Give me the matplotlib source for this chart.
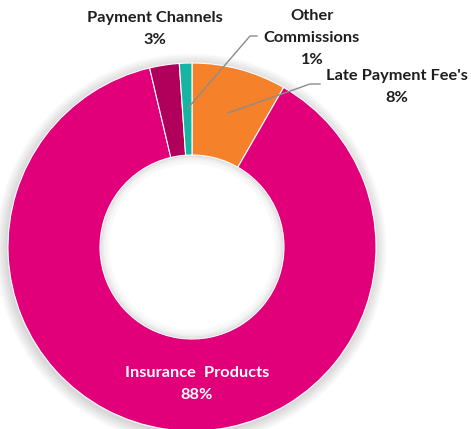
import matplotlib.pyplot as plt
import matplotlib.patches as mpatches

## Data
labels = ["Late Payment Fee's", "Insurance Products", "Payment Channels", "Other Commissions"]
shown = ["8%", "88%", "3%", "1%"]
values = [8.3, 88.0, 2.6, 1.1]
colors = ["#F5822A", "#E2007A", "#B0005C", "#17B3A3"]

W, H = 471, 429
fig = plt.figure(figsize=(W / 100, H / 100), dpi=100)
ax = fig.add_axes([0, 0, 1, 1])

cx, cy = 192, H - 247
R = 184

# soft shadow around the ring
for i in range(8):
    ax.add_patch(mpatches.Circle((cx - 1, cy - 2), R + 1 + i * 1.5,
                                 color="black", alpha=0.02, lw=0, zorder=0))

ax.pie(values, colors=colors, startangle=90, counterclock=False,
       center=(cx, cy), radius=R, frame=True,
       wedgeprops=dict(width=R / 2, edgecolor="white", linewidth=0.8))
ax.set_xlim(0, W)
ax.set_ylim(0, H)
ax.set_aspect("equal")
ax.axis("off")

# faint inner shadow of the hole
for i in range(5):
    ax.add_patch(mpatches.Circle((cx, cy), R / 2 - 1 - i * 1.5, color="white",
                                 alpha=0.35, lw=0, zorder=3))
ax.add_patch(mpatches.Circle((cx, cy), R / 2 - 9, color="white", lw=0, zorder=3))

font = dict(family="Lato", fontweight="bold", fontsize=11.8, ha="center", va="center")

ax.text(155, H - 29, "Payment Channels\n" + shown[2], color="#1E1E1E",
        linespacing=1.7, **font)
ax.text(312, H - 38, "Other\nCommissions\n" + shown[3], color="#1E1E1E",
        linespacing=1.7, **font)
ax.text(397, H - 87, "Late Payment Fee's\n" + shown[0], color="#1E1E1E",
        linespacing=1.7, **font)
ax.text(197, H - 384, "Insurance  Products\n" + shown[1], color="white",
        linespacing=1.7, zorder=5, **font)

# leader lines
ax.plot([188, 250, 257], [H - 108, H - 36, H - 36], color="#8C8C8C", lw=1, zorder=6)
ax.plot([228, 310, 320], [H - 113, H - 84, H - 84], color="#8C8C8C", lw=1, zorder=6)

fig.savefig("out.png", dpi=100)
